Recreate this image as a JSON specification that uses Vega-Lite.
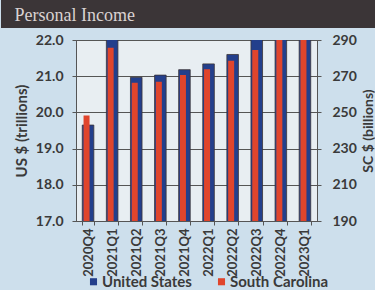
{
  "$schema": "https://vega.github.io/schema/vega-lite/v6.json",
  "padding": 0,
  "background": "#cddfec",
  "width": 241,
  "height": 181,
  "config": {
    "font": "Lato",
    "axis": {"labelFont": "Lato", "labelFontWeight": "bold", "labelColor": "#3a3a3a", "titleFont": "Lato", "titleColor": "#3a3a3a", "domainColor": "#555", "tickColor": "#555"},
    "legend": {"labelFont": "Lato", "padding": 0}
  },
  "view": {"fill": "#e8eef2", "stroke": "#555"},
  "data": {"values": [
    {"q": "2020Q4", "us": 19.65, "sc": 248.3},
    {"q": "2021Q1", "us": 22.3, "sc": 285.7},
    {"q": "2021Q2", "us": 20.97, "sc": 266.4},
    {"q": "2021Q3", "us": 21.03, "sc": 267.0},
    {"q": "2021Q4", "us": 21.18, "sc": 270.7},
    {"q": "2022Q1", "us": 21.34, "sc": 273.8},
    {"q": "2022Q2", "us": 21.6, "sc": 278.6},
    {"q": "2022Q3", "us": 22.2, "sc": 284.5},
    {"q": "2022Q4", "us": 22.4, "sc": 290.5},
    {"q": "2023Q1", "us": 22.6, "sc": 293}
  ]},
  "encoding": {
    "x": {"field": "q", "type": "nominal", "sort": null,
      "scale": {"paddingInner": 0.52, "paddingOuter": 0.26},
      "axis": {"title": null, "labelAngle": 270, "labelFontSize": 13, "labelPadding": 3, "tickBand": "extent", "tickSize": 4}}
  },
  "layer": [
    {
      "mark": {"type": "bar", "clip": true, "strokeWidth": 0.8},
      "encoding": {
        "y": {"field": "us", "type": "quantitative",
          "scale": {"domain": [17, 22], "zero": false, "nice": false},
          "axis": {"orient": "left", "title": ["", "US $ (trillions)"], "titleLineHeight": 14, "titleFontSize": 15, "titleFontWeight": "bold", "titlePadding": 6, "format": ".1f", "values": [17, 18, 19, 20, 21, 22], "labelFontSize": 14, "labelPadding": 9, "tickSize": 4, "grid": true, "gridColor": "#555", "gridWidth": 1}},
        "color": {"datum": "United States", "type": "nominal",
          "scale": {"domain": ["United States", "South Carolina"], "range": ["#233f8c", "#e0452c"]},
          "legend": {"orient": "none", "legendX": 10, "legendY": 234, "direction": "horizontal", "title": null, "labelFontSize": 15, "labelFontWeight": "bold", "labelColor": "#3a3a3a", "symbolType": "square", "symbolSize": 50, "symbolOpacity": 1, "symbolStrokeWidth": 0, "columnPadding": 22, "labelOffset": 1}},
        "stroke": {"datum": 0.5, "type": "quantitative",
          "scale": {"domain": [0, 1], "range": ["#3b3537", "#3b3537"]},
          "legend": {"type": "gradient", "orient": "none", "legendX": -75, "legendY": -40, "direction": "horizontal", "gradientLength": 375, "gradientThickness": 28, "gradientStrokeWidth": 0, "labelOpacity": 0, "labelExpr": "''", "labelFontSize": 1, "title": "\u200b\u00a0\u00a0\u00a0Personal Income", "titleOrient": "bottom", "titlePadding": -24, "titleAnchor": "start", "titleFont": "Liberation Serif", "titleFontSize": 18, "titleFontWeight": "normal", "titleColor": "#d9d2d2", "titleLimit": 400}}
      }
    },
    {
      "mark": {"type": "bar", "clip": true, "size": 6, "xOffset": -1.5},
      "encoding": {
        "y": {"field": "sc", "type": "quantitative",
          "scale": {"domain": [190, 290], "zero": false, "nice": false},
          "axis": {"orient": "right", "title": "SC $ (billions)", "titleAngle": 270, "titleBaseline": "top", "titleFontSize": 14, "titleFontWeight": "bold", "titlePadding": 5, "values": [190, 210, 230, 250, 270, 290], "labelFontSize": 14, "labelPadding": 11, "tickSize": 4, "grid": false}},
        "color": {"datum": "South Carolina", "type": "nominal"}
      }
    }
  ],
  "resolve": {"scale": {"y": "independent"}}
}
